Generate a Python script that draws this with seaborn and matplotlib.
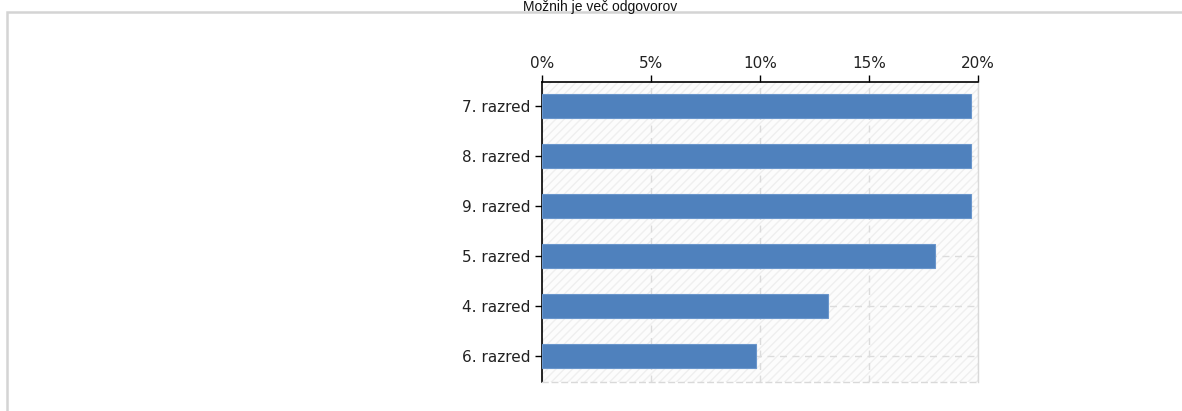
import matplotlib
matplotlib.use("Agg")
import matplotlib.pyplot as plt
import seaborn as sns
import pandas as pd
from matplotlib.patches import Rectangle
from matplotlib.ticker import FuncFormatter

categories = ["7. razred", "8. razred", "9. razred", "5. razred", "4. razred", "6. razred"]
values = [19.67, 19.67, 19.67, 18.03, 13.11, 9.84]
xticks = [0, 5, 10, 15, 20]
title = "Možnih je več odgovorov"

sns.set_theme(style="white")
plt.rcParams["font.family"] = ["DejaVu Sans"]
plt.rcParams["hatch.linewidth"] = 1.0

df = pd.DataFrame({"cat": categories, "val": values})

fig = plt.figure(figsize=(11.82, 4.11), dpi=100)
ax = fig.add_axes([0.4585, 0.0706, 0.3689, 0.7299])

# hatched background
ax.set_facecolor("#fcfcfc")
ax.add_patch(Rectangle((0, 0), 1, 1, transform=ax.transAxes, facecolor="none",
                       edgecolor="#efefef", hatch="////", linewidth=0, zorder=0))

sns.barplot(data=df, x="val", y="cat", order=categories, color="#4f81bd",
            width=0.48, edgecolor="#6a96cc", linewidth=0.8, saturation=1,
            ax=ax, zorder=3)

ax.set_xlim(0, 20)
ax.set_ylim(5.52, -0.47)
ax.set_xticks(xticks)
ax.xaxis.set_major_formatter(FuncFormatter(lambda v, p: f"{int(v)}%"))
ax.xaxis.tick_top()
ax.set_xlabel("")
ax.set_ylabel("")

ax.grid(True, axis="both", linestyle=(0, (5, 4)), color="#dcdcdc", linewidth=1, zorder=1)
ax.set_axisbelow(True)

ax.tick_params(axis="x", which="both", top=True, bottom=False, direction="out",
               length=5, width=1, color="black", labelsize=11, labelcolor="#222222", pad=3)
ax.tick_params(axis="y", which="both", left=True, direction="out", length=5, width=1,
               color="black", labelsize=11, labelcolor="#222222", pad=3)

for s in ["top", "left"]:
    ax.spines[s].set_color("black")
    ax.spines[s].set_linewidth(1.2)
ax.spines["right"].set_color("#d9d9d9")
ax.spines["right"].set_linewidth(1)
ax.spines["bottom"].set_color("#d9d9d9")
ax.spines["bottom"].set_linestyle((0, (4, 3)))
ax.spines["bottom"].set_linewidth(1)
for s in ax.spines.values():
    s.set_visible(True)

# outer frame
fig.patches.append(Rectangle((7 / 1182, -0.05), 1.2, (411 - 12) / 411 + 0.05,
                             transform=fig.transFigure, facecolor="none",
                             edgecolor="#d4d4d4", linewidth=1.8, zorder=0))

fig.text(600 / 1182, 1 - 0.5 / 411, title, ha="center", va="top",
         fontsize=10, family=["Liberation Sans", "DejaVu Sans"], color="#111111")

fig.savefig("out.png", dpi=100)
